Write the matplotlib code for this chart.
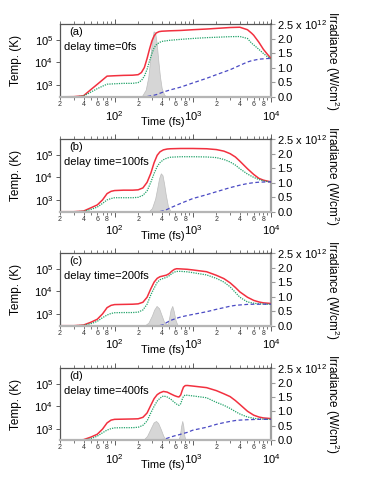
import math

import matplotlib
matplotlib.use("Agg")
import matplotlib.pyplot as plt
from matplotlib.ticker import FixedLocator, FuncFormatter, NullLocator

plt.rcParams["font.family"] = ["Liberation Sans", "DejaVu Sans"]
plt.rcParams["mathtext.fontset"] = "custom"
plt.rcParams["mathtext.rm"] = "Liberation Sans"
plt.rcParams["mathtext.it"] = "Liberation Sans:italic"

# ---- panel (a): delay 0 fs ----
t_a = [20, 30, 40, 50, 60, 70, 80, 100, 130, 170, 200, 220, 240, 260, 280, 300,
       320, 340, 370, 400, 500, 700, 1000, 1500, 2000, 3000, 4000, 5000, 5650,
       6000, 7000, 8000, 9000, 10000]
red_a = [305, 310, 340, 650, 1090, 1700, 2500, 2600, 2700, 2750, 2900, 3600,
         6000, 15000, 40000, 90000, 150000, 200000, 230000, 240000, 250000,
         260000, 280000, 300000, 320000, 350000, 360000, 280000, 196000,
         160000, 78000, 38000, 23000, 15000]
green_a = [300, 300, 330, 500, 700, 900, 1100, 1150, 1200, 1200, 1300, 1600,
           2500, 5000, 12000, 25000, 45000, 60000, 75000, 85000, 95000, 105000,
           115000, 125000, 130000, 138000, 140000, 115000, 71000, 60000,
           38000, 25000, 18000, 15000]
blue_a = [300, 300, 300, 300, 300, 300, 300, 300, 300, 300, 300, 302, 305,
          315, 330, 345, 360, 380, 420, 470, 600, 820, 1250, 2000, 2900, 4800,
          7500, 10500, 12000, 12500, 14000, 14500, 15000, 15000]
tp_a = [220, 250, 270, 285, 300, 315, 330, 345, 360, 380, 400, 430, 460]
ip_a = [0.0, 0.25, 0.7, 1.3, 1.9, 2.25, 2.2, 1.85, 1.3, 0.7, 0.3, 0.08, 0.0]

# ---- panel (b): delay 100 fs ----
t_b = [20, 30, 40, 50, 60, 70, 80, 90, 100, 130, 170, 200, 230, 260, 290, 320,
       350, 380, 420, 470, 520, 700, 1000, 1500, 2000, 2500, 3000, 3500, 4000,
       5000, 6000, 7000, 8000, 9000, 10000]
red_b = [300, 300, 320, 450, 600, 1000, 1900, 2400, 2600, 2700, 2700, 2800,
         3400, 6000, 15000, 45000, 95000, 135000, 165000, 180000, 185000,
         190000, 190000, 185000, 170000, 145000, 112000, 80000, 52000, 24000,
         13500, 9000, 7500, 6800, 6300]
green_b = [300, 300, 310, 380, 480, 700, 1000, 1150, 1250, 1250, 1250, 1300,
           1600, 2500, 6000, 15000, 30000, 45000, 60000, 72000, 78000, 82000,
           82000, 80000, 75000, 62000, 48000, 35000, 24000, 14000, 10000, 8000,
           7000, 6500, 6100]
blue_b = [300, 300, 300, 300, 300, 300, 300, 300, 300, 300, 300, 300, 300, 300,
          300, 300, 300, 305, 330, 380, 450, 700, 1150, 1700, 2300, 2900, 3500,
          4000, 4500, 5300, 5800, 6100, 6200, 6300, 6300]
tp_b = [270, 300, 330, 350, 370, 390, 410, 430, 450, 480, 520]
ip_b = [0.0, 0.12, 0.45, 0.8, 1.15, 1.32, 1.25, 0.95, 0.6, 0.2, 0.0]

# ---- panel (c): delay 200 fs ----
t_c = [20, 30, 40, 50, 60, 70, 80, 90, 100, 130, 170, 200, 230, 260, 290, 320,
       350, 380, 420, 460, 500, 540, 580, 620, 700, 850, 1000, 1500, 2000, 2500,
       3000, 3500, 4000, 5000, 6000, 7000, 8000, 9000, 10000]
red_c = [300, 300, 320, 430, 580, 1000, 1900, 2400, 2600, 2650, 2700, 2800,
         3300, 5500, 13000, 26000, 38000, 45000, 49000, 53000, 62000, 80000,
         95000, 102000, 100000, 96000, 90000, 75000, 52000, 37000, 24000,
         15000, 9500, 5500, 4000, 3400, 3100, 3000, 2900]
green_c = [300, 300, 310, 370, 470, 680, 890, 1050, 1130, 1150, 1150, 1200,
           1500, 2700, 7000, 14000, 25000, 33000, 38000, 42000, 50000, 62000,
           72000, 77000, 78000, 74000, 68000, 54000, 38000, 26000, 16000, 9000,
           5500, 3400, 3000, 2800, 2750, 2700, 2700]
blue_c = [300, 300, 300, 300, 300, 300, 300, 300, 300, 300, 300, 300, 300, 300,
          300, 300, 300, 305, 330, 410, 480, 540, 590, 640, 730, 850, 950, 1250,
          1600, 1900, 2200, 2400, 2500, 2650, 2700, 2700, 2700, 2700, 2700]
tp_c = [240, 270, 300, 320, 344, 370, 400, 430, 460, 480, 500, 520, 546, 570,
        600, 640]
ip_c = [0.0, 0.1, 0.35, 0.55, 0.68, 0.6, 0.35, 0.12, 0.03, 0.08, 0.3, 0.55,
        0.68, 0.5, 0.2, 0.0]

# ---- panel (d): delay 400 fs ----
t_d = [20, 30, 40, 50, 60, 70, 80, 90, 100, 130, 170, 200, 230, 260, 290, 320,
       350, 380, 420, 470, 520, 580, 630, 665, 700, 730, 760, 800, 850, 1000,
       1500, 2000, 2500, 3000, 3500, 4000, 5000, 6000, 7000, 8000, 9000, 10000]
red_d = [300, 300, 320, 420, 560, 950, 1800, 2400, 2600, 2650, 2700, 2750,
         3200, 5000, 11000, 22000, 33000, 40000, 46000, 43000, 36000, 30000,
         27000, 26000, 32000, 50000, 72000, 84000, 85000, 80000, 68000, 50000,
         36000, 27000, 18000, 12000, 6000, 4000, 3300, 3000, 2900, 2800]
green_d = [300, 300, 310, 360, 460, 650, 860, 1000, 1080, 1100, 1100, 1150,
           1400, 2200, 5000, 10000, 17000, 23000, 29000, 26000, 21000, 15000,
           12000, 11000, 13000, 20000, 28000, 32000, 31000, 29000, 24000,
           15000, 11000, 8000, 5800, 4500, 3300, 2900, 2700, 2650, 2600, 2600]
blue_d = [300, 300, 300, 300, 300, 300, 300, 300, 300, 300, 300, 300, 300, 300,
          300, 302, 306, 312, 325, 370, 420, 470, 510, 530, 560, 590, 610, 640,
          680, 850, 1150, 1550, 1850, 2100, 2300, 2400, 2500, 2550, 2600, 2600,
          2600, 2600]
tp_d = [230, 260, 290, 315, 338, 360, 390, 420, 460, 650, 680, 710, 733, 755,
        780, 810]
ip_d = [0.0, 0.15, 0.42, 0.62, 0.67, 0.6, 0.38, 0.15, 0.0, 0.0, 0.15, 0.5,
        0.67, 0.5, 0.15, 0.0]

labels = ["(a)", "(b)", "(c)", "(d)"]
delays = ["0fs", "100fs", "200fs", "400fs"]
irr_ticks = [0.0, 0.5, 1.0, 1.5, 2.0, 2.5]
irr_ticklabels = ["0.0", "0.5", "1.0", "1.5", "2.0", r"2.5 x 10$^{12}$"]

rects = [
    [0.1604, 0.7996, 0.5642, 0.1508],
    [0.1604, 0.5626, 0.5642, 0.1502],
    [0.1604, 0.3271, 0.5642, 0.1498],
    [0.1604, 0.0903, 0.5642, 0.1488],
]

minor_x = [m * d for d in (10, 100, 1000) for m in range(2, 10)]


def _minor_fmt(v, pos):
    m = int(round(v / 10 ** int(math.floor(math.log10(v) + 1e-9))))
    return str(m) if m in (2, 4, 6, 8) else ""


def _major_fmt(v, pos):
    return r"$10^{%d}$" % int(round(math.log10(v)))


fig = plt.figure(figsize=(3.74, 4.84), dpi=100)

panels = [
    (t_a, red_a, green_a, blue_a, tp_a, ip_a),
    (t_b, red_b, green_b, blue_b, tp_b, ip_b),
    (t_c, red_c, green_c, blue_c, tp_c, ip_c),
    (t_d, red_d, green_d, blue_d, tp_d, ip_d),
]

for i, (t, red, green, blue, tp, ip) in enumerate(panels):
    ax = fig.add_axes(rects[i])
    ax2 = ax.twinx()
    # temperature curves above the pulse
    ax.set_zorder(ax2.get_zorder() + 1)
    ax.patch.set_visible(False)

    ax2.fill_between(tp, 0, ip, facecolor="#d6d6d6", edgecolor="#bdbdbd", lw=0.5)
    ax2.set_ylim(0, 2.5)

    ax.plot(t, red, color="#f2303f", lw=1.1)
    ax.plot(t, green, color="#22a36a", lw=0.9, ls=(0, (1, 0.9)))
    ax.plot(t, blue, color="#4a4ac4", lw=0.9, ls=(0, (3, 2)))

    ax.set_xscale("log")
    ax.set_yscale("log")
    ax.set_xlim(20, 1e4)
    ax.set_ylim(300, 5e5)

    ax.xaxis.set_major_locator(FixedLocator([100, 1000, 10000]))
    ax.xaxis.set_major_formatter(FuncFormatter(_major_fmt))
    ax.xaxis.set_minor_locator(FixedLocator(minor_x))
    ax.xaxis.set_minor_formatter(FuncFormatter(_minor_fmt))
    ax.tick_params(axis="x", which="major", top=True, direction="out",
                   length=3.5, width=0.6, labelsize=8, pad=5, color="#444")
    ax.tick_params(axis="x", which="minor", top=True, direction="out",
                   length=2, width=0.5, labelsize=5, pad=1, color="#444",
                   labelcolor="#333")

    ax.yaxis.set_major_locator(FixedLocator([1e3, 1e4, 1e5]))
    ax.yaxis.set_minor_locator(NullLocator())
    ax.tick_params(axis="y", which="major", direction="out", length=3,
                   width=0.6, labelsize=8, pad=2, color="#444")

    ax2.set_yticks(irr_ticks)
    ax2.set_yticklabels(irr_ticklabels)
    ax2.tick_params(axis="y", direction="out", length=3, width=0.8,
                    color="#999", labelsize=8, pad=1.5)

    for s in ("left", "top"):
        ax.spines[s].set_color("#555")
        ax.spines[s].set_linewidth(0.9)
    ax.spines["bottom"].set_color("#b5b5b5")
    ax.spines["bottom"].set_linewidth(1.6)
    ax.spines["right"].set_visible(False)
    for s in ("left", "top", "bottom"):
        ax2.spines[s].set_visible(False)
    ax2.spines["right"].set_color("#a0a0a0")
    ax2.spines["right"].set_linewidth(1.6)

    ax.set_ylabel("Temp. (K)", fontsize=8.5)
    ax.yaxis.set_label_coords(-0.18, 0.5)
    ax.set_xlabel("Time (fs)", fontsize=8)
    ax.xaxis.set_label_coords(0.485, -0.27)
    ax2.set_ylabel("Irradiance (W/cm$^{2}$)", fontsize=8.5, rotation=-90,
                   va="center")
    ax2.yaxis.set_label_coords(1.29, 0.5)

    ax.text(0.045, 0.89, labels[i], transform=ax.transAxes, fontsize=8,
            va="center", ha="left")
    ax.text(0.02, 0.685, "delay time=" + delays[i], transform=ax.transAxes,
            fontsize=8, va="center", ha="left")

fig.savefig("out.png", dpi=100)
